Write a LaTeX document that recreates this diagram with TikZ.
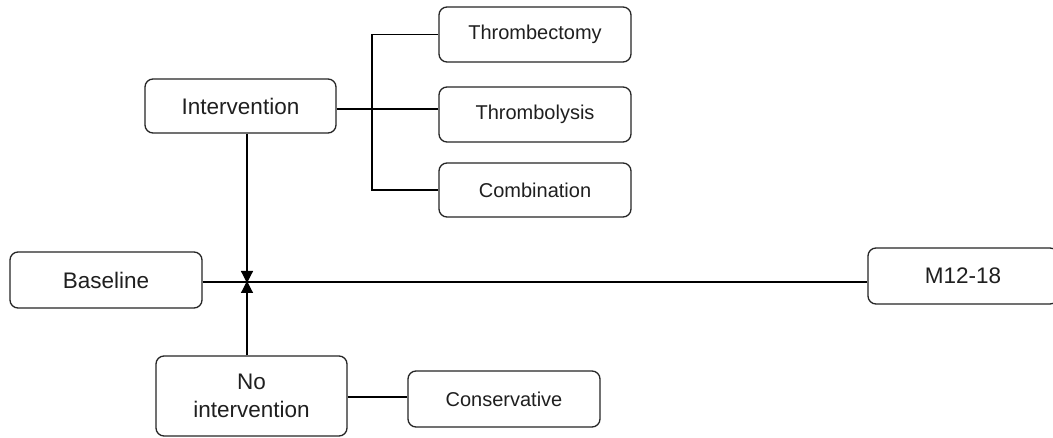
\documentclass[tikz,border=0pt]{standalone}
\usepackage{fontspec}
\setmainfont{Liberation Sans}
\usetikzlibrary{arrows.meta}
\tikzset{
  box/.style={draw=black!85, line width=1.3pt, rounded corners=8pt, fill=white, inner sep=0pt, text=black!88, align=center},
  bigtxt/.style={font=\fontsize{22.5}{28}\selectfont},
  smalltxt/.style={font=\fontsize{20}{24}\selectfont},
  link/.style={draw=black, line width=1.2pt},
  arr/.style={link, -{Triangle[length=12pt,width=12pt]}}
}
\begin{document}
\begin{tikzpicture}[x=1pt,y=-1pt]
\clip (0,0) rectangle (1053,438);
\fill[white] (0,0) rectangle (1053,438);
% nodes
\node[box,bigtxt,minimum width=191pt,minimum height=54pt] (inter) at (240.5,106) {Intervention};
\node[box,smalltxt,minimum width=192pt,minimum height=55pt] (tbe) at (535,34.5) {Thrombectomy};
\node[box,smalltxt,minimum width=192pt,minimum height=55pt] (tbl) at (535,114.5) {Thrombolysis};
\node[box,smalltxt,minimum width=192pt,minimum height=54pt] (comb) at (535,190) {Combination};
\node[box,bigtxt,minimum width=192pt,minimum height=56pt] (base) at (106,280) {Baseline};
\node[box,bigtxt,minimum width=190pt,minimum height=56pt] (m12) at (963,276) {M12-18};
\node[box,bigtxt,minimum width=191pt,minimum height=80pt] (noint) at (251.5,396) {No\\intervention};
\node[box,smalltxt,minimum width=192pt,minimum height=56pt] (cons) at (504,399) {Conservative};
% coordinates
\coordinate (J) at (247,282);
\coordinate (br) at (372,109);
\coordinate (cy) at (380,397);
% connectors
\draw[link] (inter.east |- br) -- (tbl.west |- br);
\draw[link] (tbe.west) -| (br) |- (comb.west);
\draw[link] (base.east |- J) -- (m12.west |- J);
\draw[link] (noint.east |- cy) -- (cons.west |- cy);
\draw[arr] (inter.south -| J) -- ([yshift=-1pt]J);
\draw[arr] (noint.north -| J) -- ([yshift=1pt]J);
\end{tikzpicture}
\end{document}
